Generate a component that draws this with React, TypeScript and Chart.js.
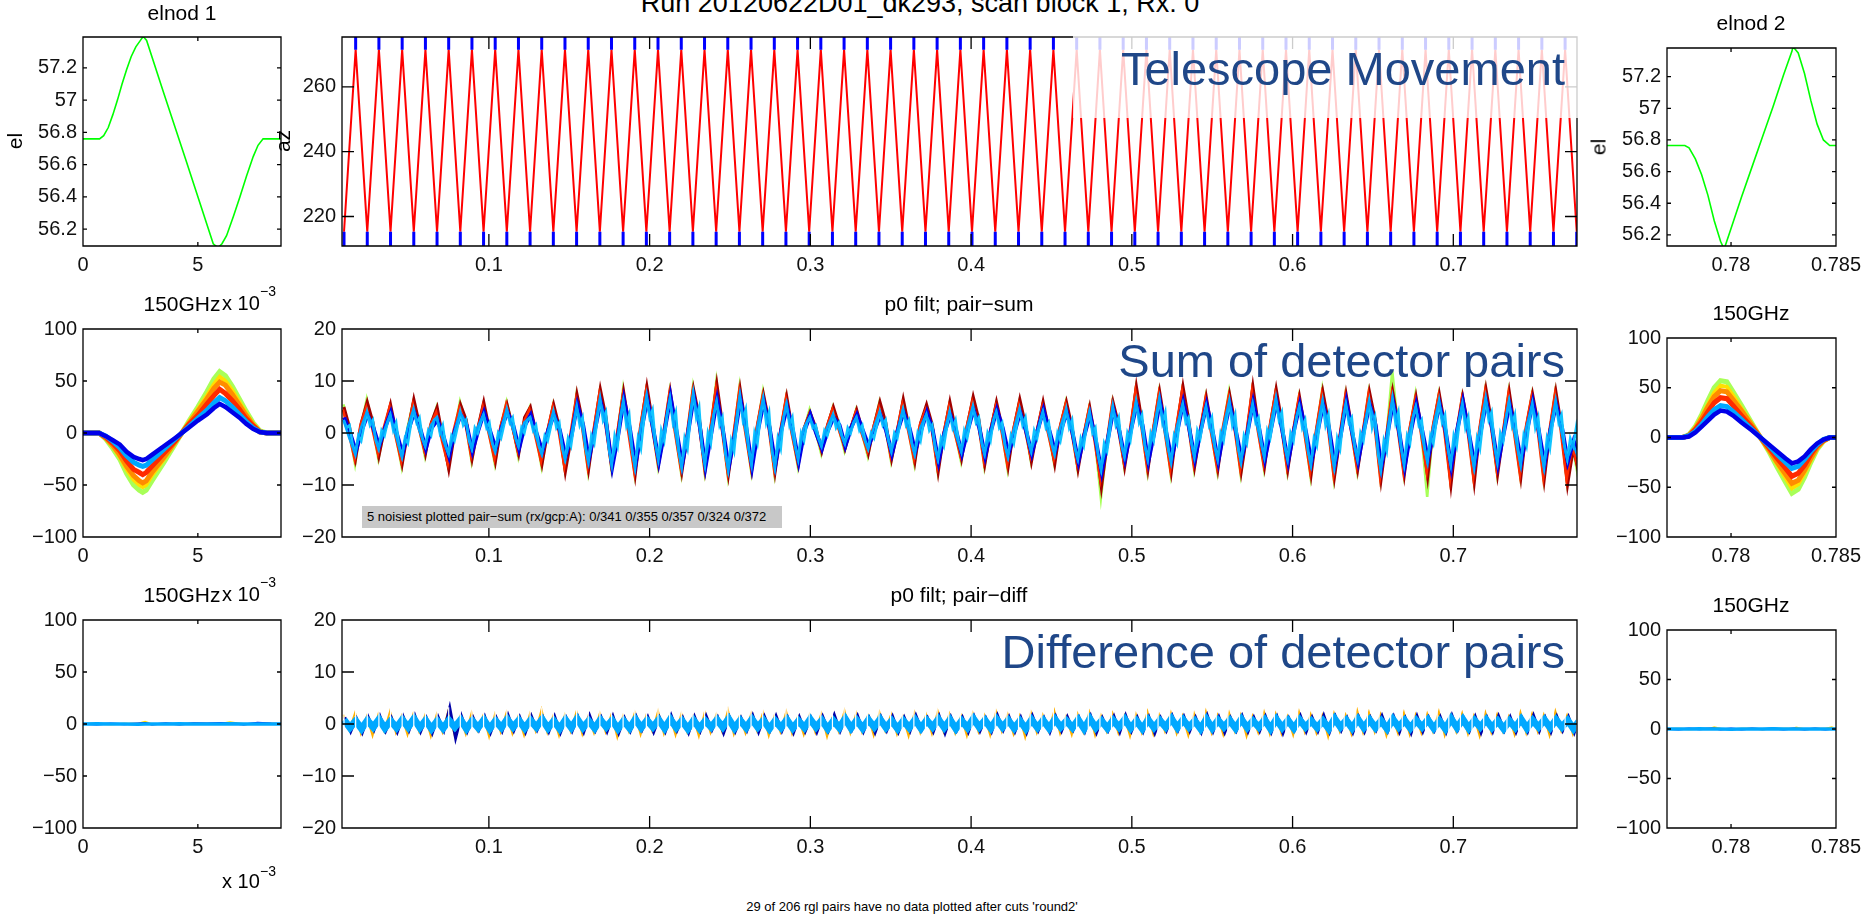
import React, { useEffect, useRef } from "react";
import { Chart, registerables } from "chart.js";

Chart.register(...registerables);

const FONT = "'Liberation Sans', Arial, Helvetica, sans-serif";

// ================= DATA =================
// elnod 1 (x in units of 1e-3)
const EL1_X = [0, 0.72, 0.9, 1.1, 1.3, 1.5, 1.7, 1.9, 2.1, 2.3, 2.5, 2.62, 2.77, 3.5, 4.5, 5.67, 5.88, 6.05, 6.25, 6.55, 6.83, 7.12, 7.41, 7.62, 7.84, 8.62];
const EL1_Y = [56.76, 56.76, 56.78, 56.83, 56.91, 57.0, 57.1, 57.19, 57.27, 57.33, 57.37, 57.395, 57.37, 57.05, 56.62, 56.11, 56.085, 56.11, 56.16, 56.28, 56.4, 56.53, 56.65, 56.72, 56.76, 56.76];
// elnod 2
const EL2_X = [0.77695, 0.7778, 0.778, 0.7783, 0.7786, 0.7789, 0.7792, 0.7795, 0.77967, 0.78, 0.7805, 0.781, 0.7815, 0.782, 0.7825, 0.7829, 0.78295, 0.7832, 0.7835, 0.7838, 0.7841, 0.7844, 0.7847, 0.785];
const EL2_Y = [56.765, 56.765, 56.75, 56.68, 56.58, 56.45, 56.29, 56.16, 56.11, 56.24, 56.44, 56.63, 56.82, 57.01, 57.21, 57.36, 57.39, 57.35, 57.22, 57.05, 56.9, 56.8, 56.765, 56.765];

// azimuth scan turnaround times (even index = low end, odd = high end)
const AZ_TURN_T = [
  0.00987, 0.01711, 0.02434, 0.03158, 0.03881, 0.04605, 0.05328, 0.06052, 0.06775, 0.07499,
  0.08222, 0.08946, 0.09669, 0.10393, 0.11116, 0.1184, 0.12563, 0.13287, 0.1401, 0.14734,
  0.15457, 0.16181, 0.16904, 0.17628, 0.18351, 0.19075, 0.19798, 0.20522, 0.21245, 0.21969,
  0.22692, 0.23416, 0.24139, 0.24863, 0.25586, 0.2631, 0.27033, 0.27757, 0.2848, 0.29204,
  0.29927, 0.30651, 0.31374, 0.32098, 0.32821, 0.33545, 0.34268, 0.34992, 0.35715, 0.36439,
  0.37162, 0.37886, 0.38609, 0.39333, 0.40056, 0.4078, 0.41503, 0.42227, 0.4295, 0.43674,
  0.44397, 0.45121, 0.45844, 0.46568, 0.47291, 0.48015, 0.48738, 0.49462, 0.50185, 0.50909,
  0.51632, 0.52356, 0.53079, 0.53803, 0.54526, 0.5525, 0.55973, 0.56697, 0.5742, 0.58144,
  0.58867, 0.59591, 0.60314, 0.61038, 0.61761, 0.62485, 0.63208, 0.63932, 0.64655, 0.65379,
  0.66102, 0.66826, 0.67549, 0.68273, 0.68996, 0.6972, 0.70443, 0.71167, 0.7189, 0.72614,
  0.73337, 0.74061, 0.74784, 0.75508, 0.76231, 0.76955, 0.77678,
];
const AZ_SCAN_LEVELS = [215.3, 271.5]; // constant-velocity part ends (low, high)
const AZ_TURN_LEVELS = [209, 277]; // turnaround excursion (low, high)

// pair-sum, scan (sampled series)
const SUM_T0 = 0.0095;
const SUM_DT = 0.003625;
const SUM_GREEN = [
  5.5,0.5,-6,1, 6.5,1.5,-5,0.5, 5,-0.5,-6.5,1, 6,1,-4.5,1.5, 5,-1,-6.5,0, 6,2,-5.5,0.5, 5.5,0,-6,1, 6,1.5,-4.5,2, 5,0,-6.5,0, 5.5,0.5,-7,-1,
  7.5,1.5,-7.5,0.5, 8,2.5,-7,-0.5, 8.5,0.5,-8,1, 8.5,1.5,-6.5,0, 8,0,-8,-0.5, 9,2.5,-7.5,0.5, 10,1,-8.5,-0.5, 9,0.5,-7.5,1, 8,1.5,-8,0, 7,0,-6.5,0.5,
  4.5,0.5,-4,1, 5,1,-3.5,0.5, 4.5,0,-4.5,1,
  6,1.5,-5.5,0, 6,0.5,-6,1.5, 5,1,-7.5,-0.5, 5.5,0,-5.5,1, 6.5,2,-6.5,0, 5.5,0.5,-7,0.5, 6,1,-5.5,0, 5.5,0,-6,1,
  6,0.5,-7,-1, 5,-1.5,-12.5,-2.5, 6,1,-6.5,0,
  8.5,1.5,-7.5,0.5, 8,0.5,-8,1, 8.5,2,-7,0, 7,0,-7.5,1, 8,1,-8,-0.5, 8.5,0.5,-7,1, 8,1.5,-7.5,0, 7,0,-8.5,0.5, 8.5,1.5,-9,-1, 7.5,0.5,-7.5,0,
  8,2,-9,-1, 12,1,-8,0.5, 7.5,0,-12.3,1, 7.5,0.5,-9.5,-0.5, 7,0.5,-9,0.5, 8.5,1.5,-8,-0.5, 8,0,-8.5,1, 7.5,1,-9,0, 8,0.5,-9.5,-3,
  -9,
];
const SUM_DARKRED = [
  5,1,-5,2, 6,2,-4.5,1, 5.5,0,-6,0.5, 6.5,1.5,-4,2, 5,-1,-7,0, 5.5,2.5,-5,1, 6,0.5,-5.5,1.5, 5.5,1,-4,3, 5,0,-6,0.5, 5.5,1,-7.5,-1,
  7.5,2,-7,1, 8.5,3,-6.5,0, 8,1,-8,1.5, 9,2,-6,0.5, 8,0.5,-7.5,0, 8.5,3,-7,1, 9.5,1.5,-8,0, 8.5,1,-7,1.5, 7.5,2,-7.5,0.5, 7,0.5,-6,1,
  4,1,-3.5,1.5, 5,1.5,-3,1, 4.5,0.5,-4,1.5,
  6,2,-5,0.5, 6.5,1,-5.5,2, 5.5,1.5,-7.5,0, 6,0.5,-5,1.5, 7,2.5,-6,0.5, 6,1,-6.5,1, 6.5,1.5,-5.5,0.5, 6,0.5,-6,1.5,
  6,1,-7,-0.5, 5,-1.5,-10.5,-2, 6,1.5,-6.5,0.5,
  9,2,-7,1, 8,1,-7.5,1.5, 9,2.5,-6.5,0.5, 7,0.5,-7,1, 7.5,1.5,-7.5,0, 9,1,-6.5,1.5, 8.5,2,-7,0.5, 7,0.5,-8,1, 8,2,-8.5,-0.5, 7.5,1,-7,0.5,
  8,2.5,-9,-0.5, 8,1.5,-8,1, 7,0.5,-8.5,1.5, 7.5,1,-10,0, 7,1,-9.5,1, 8.5,2,-8,0, 8,0.5,-8.5,1.5, 7.5,1.5,-9,0.5, 8,1,-10,-3,
  -8,
];
const SUM_ORANGE = [
  4.5,0,-5,1.5, 5,1,-4,1, 5,-0.5,-5.5,0, 5.5,1,-3.5,1.5, 4,-1.5,-6,0.5, 5,2,-4.5,0, 5,0,-5,1, 5.5,1.5,-3.5,2, 4.5,-0.5,-5.5,0, 5,0.5,-6.5,-0.5,
  6.5,1.5,-6.5,0.5, 7.5,2,-6,-0.5, 7,0,-7.5,1, 8,1.5,-5.5,0, 7.5,0,-7,-0.5, 8,2.5,-6.5,0.5, 8.5,1,-7.5,-0.5, 8,0.5,-6.5,1, 7,1.5,-7,0, 6.5,0,-5.5,0.5,
  3.5,0.5,-3,1, 4.5,1,-2.5,0.5, 4,0,-3.5,1,
  5,1.5,-4.5,0, 5.5,0.5,-5,1.5, 4.5,1,-6.5,-0.5, 5,0,-4.5,1, 6,2,-5.5,0, 5,0.5,-6,0.5, 5.5,1,-4.5,0, 5,0,-5,1,
  5.5,0.5,-6,-1, 4.5,-1.5,-9,-2.5, 5.5,1,-5.5,0,
  8,1.5,-6.5,0.5, 7.5,0.5,-7,1, 8,2,-6,0, 6.5,0,-6.5,1, 7,1,-7,-0.5, 8,0.5,-6,1, 7.5,1.5,-6.5,0, 6.5,0,-7.5,0.5, 7.5,1.5,-8,-1, 7,0.5,-6.5,0,
  7.5,2,-8.5,-1, 7.5,1,-7.5,0.5, 6.5,0,-7.5,1, 7,0.5,-9,-0.5, 6.5,0.5,-8.5,0.5, 8,1.5,-7,-0.5, 7.5,0,-8,1, 7,1,-8.5,0, 7.5,0.5,-9,-2.5,
  -7,
];
const SUM_BLUE = [
  3,0,-3.5,0.5, 3.5,1,-2.5,1, 4,0,-4,0.5, 4,1,-3,1, 2.5,-0.5,-4.5,0.5, 3.5,1.5,-3.5,0.5, 4,0.5,-3,1, 4,1.5,-3,1.5, 3.5,0,-3.5,0.5, 3.5,0.5,-4.5,-0.5,
  5.5,1.5,-5,0.5, 6,1.5,-6.5,-0.5, 6.5,1,-6,0.5, 6.5,1,-5.5,0.5, 7,0.5,-6,0, 7,1.5,-6.5,0, 6.5,0.5,-6.5,-0.5, 6.5,1,-6.5,0.5, 6,1,-6,0.5, 5,0.5,-5.5,0.5,
  3.5,0,-3,0.5, 3,1.5,-2.5,1, 3.5,0.5,-2.5,0.5,
  3.5,0.5,-4,0.5, 4,1,-3.5,0.5, 4,0.5,-5.5,0, 3.5,0.5,-4,0.5, 4.5,1,-4.5,0.5, 4.5,1,-4,0, 4,0.5,-4,0.5, 4.5,0.5,-3.5,0.5,
  4,0,-5.5,-0.5, 3.5,-1.5,-7.5,-1.5, 4.5,0.5,-5,0.5,
  5.5,1.5,-5.5,0, 6,0.5,-5,0.5, 6,1,-5,0.5, 5.5,0.5,-5.5,0.5, 5.5,0.5,-5,0, 6,1,-5,0.5, 6,0.5,-5.5,0.5, 5.5,0.5,-5.5,0, 5.5,1,-6,-0.5, 6,0,-5.5,0.5,
  5.5,1.5,-6.5,-0.5, 6,0.5,-6.5,0, 5.5,0.5,-5,0.5, 5.5,0.5,-6.5,0.5, 6,0,-6,0, 6,1,-6,0, 5.5,0.5,-5.5,0.5, 6,0.5,-6,0.5, 5.5,1,-5.5,-1.5,
  -4.5,
];
const SUM_LIGHTBLUE = [
  2.5,-1,-4,1, 4,1.5,-3,0.5, 3.5,-0.5,-4.5,1, 4.5,0.5,-2.5,1.5, 3,-1,-4,0, 4,2,-3,1, 3.5,0,-3.5,0.5, 4.5,1,-2.5,2, 3,-0.5,-4,0, 4,1,-5,-1,
  5,1,-5.5,0, 6.5,2,-6,-1, 6,0.5,-6.5,1, 7,1.5,-5,0, 6.5,0,-6.5,-0.5, 7.5,2,-6,0.5, 6,1,-7,-1, 7,0.5,-6,1, 6.5,1.5,-6.5,0, 5.5,0,-5,1,
  3,0.5,-2.5,1, 3.5,1,-2,0.5, 3,0,-3,1,
  4,1,-3.5,0, 4.5,0.5,-4,1, 3.5,1,-5,-0.5, 4,0,-3.5,1, 5,1.5,-4,0, 4,0.5,-4.5,0.5, 4.5,1,-3.5,0, 4,0,-4,1,
  4.5,0.5,-5,-1, 4,-1,-7,-2, 5,1,-4.5,0,
  6,1,-5,0.5, 6.5,0,-5.5,1, 5.5,1.5,-4.5,0, 5,0,-5,1, 6,1,-5.5,-0.5, 5.5,0.5,-4.5,1, 6.5,1,-5,0, 5,0,-6,0.5, 6,1.5,-6.5,-1, 5.5,0.5,-5,0,
  6,2,-7,-1, 6.5,1,-6,0.5, 5,0,-5.5,1, 6,1,-6,0, 5.5,0.5,-6.5,0.5, 6.5,1.5,-5.5,-0.5, 6,0,-6,1, 5.5,1,-6.5,0, 6,0.5,-5,-2,
  -5,
];
// denser core channel (twice the sampling rate)
const SUM_CYAN = [
  2.5,1,1.5,-2,-4,-0.5,-1.5,1.5, 4,1.5,2.5,-1.5,-3,0.5,-0.5,2, 3.5,0.5,2,-2.5,-4.5,-1,-2,1.5, 4.5,2,3,-1,-2.5,0.5,-0.5,2.5,
  3,0,1.5,-2.5,-4,-0.5,-1.5,1, 4,1.5,2.5,-1.5,-3,1,0,2, 3.5,1,2,-2,-3.5,0,-1,1.5, 4.5,2,3,-1,-2.5,1,0,2.5,
  3,0.5,1.5,-2.5,-4,-0.5,-1.5,1, 4,1,2,-3,-5,-1,-2.5,1.5,
  5,1.5,3,-3,-5.5,-0.5,-2,2.5, 6.5,2.5,4,-3,-6,-0.5,-2.5,3, 6,1.5,3.5,-3.5,-6.5,-1,-3,2.5, 7,3,4.5,-2,-5,0.5,-1.5,3.5,
  6.5,2,4,-3.5,-6.5,-1,-3,3, 7.5,3,5,-3,-6,0,-2,3.5, 6,1.5,3,-4,-7,-1.5,-3.5,2.5, 7,2.5,4.5,-3,-6,0,-2,3,
  6.5,2,4,-3.5,-6.5,-1,-3,3, 5.5,1.5,3,-2.5,-5,0,-1.5,2,
  3,1,1.5,-1,-2.5,0.5,-0.5,1.5, 3.5,1,2,-0.5,-2,1,0,2, 3,0.5,1.5,-1.5,-3,0,-1,1.5,
  4,1.5,2.5,-1.5,-3.5,0,-1,2, 4.5,1.5,2.5,-2,-4,0,-1.5,2, 3.5,0.5,1.5,-3,-5,-1,-2.5,1, 4,1,2.5,-1.5,-3.5,0.5,-1,2,
  5,2,3,-2,-4,0,-1.5,2.5, 4,1,2,-2.5,-4.5,-0.5,-2,1.5, 4.5,1.5,3,-1.5,-3.5,0.5,-1,2, 4,1,2,-2,-4,0,-1.5,1.5,
  4.5,1,2.5,-3,-5,-1,-2.5,1.5, 4,0,1,-4.5,-7,-2,-3.5,0.5, 5,1.5,3,-2.5,-4.5,0,-1.5,2.5,
  6,2,3.5,-2.5,-5,0,-1.5,3, 6.5,2,4,-3,-5.5,-0.5,-2,3, 5.5,2,3,-2,-4.5,0.5,-1,2.5, 5,1.5,3,-2.5,-5,0,-1.5,2.5,
  6,1.5,3.5,-3,-5.5,-0.5,-2,2.5, 5.5,2,3,-2,-4.5,0.5,-1,2.5, 6.5,2.5,4,-2.5,-5,0,-1.5,3, 5,1,2.5,-3.5,-6,-1,-2.5,2,
  6,1.5,3.5,-3.5,-6.5,-1,-3,2.5, 5.5,2,3,-2.5,-5,0,-1.5,2.5, 6,1,3,-4,-7,-1.5,-3.5,2, 6.5,2,4,-3,-6,-0.5,-2,3,
  5,1.5,2.5,-3,-5.5,-0.5,-2,2, 6,2,3.5,-3,-6,-0.5,-2.5,2.5, 5.5,1,3,-3.5,-6.5,-1,-3,2, 6.5,2.5,4,-2.5,-5.5,0,-1.5,3,
  6,1.5,3.5,-3,-6,-0.5,-2.5,2.5, 5.5,1,3,-3.5,-6.5,-1,-3,2, 6,2,3.5,-2.5,-5,-1,-2.5,1,
  -4,
];

// pair-diff, scan
const DIFF_ORANGE = [
  1.8,-1.2,2.2,-1.9,1.5,-2.3,1.9,-1.4, 2.5,-1.7,1.6,-2.1,2.0,-1.5,1.7,-2.4,
  1.9,-1.6,2.6,-1.8,1.4,-2.0,2.2,-1.3, 1.7,-2.5,1.9,-1.6,2.3,-1.9,1.5,-2.2,
  2.0,-1.4,2.8,-1.7,1.6,-2.3,1.8,-1.5, 2.4,-2.0,1.5,-1.8,2.1,-1.6,1.9,-2.6,
  1.6,-1.5,2.2,-2.1,1.8,-1.4,2.5,-1.9, 1.7,-2.2,2.0,-1.6,1.5,-2.4,2.3,-1.7,
  1.9,-1.5,2.7,-2.0,1.6,-1.8,2.1,-1.4, 2.2,-2.3,1.7,-1.6,2.4,-1.9,1.5,-2.1,
  1.8,-1.7,2.0,-2.5,1.6,-1.5,2.6,-1.8, 2.1,-1.6,1.7,-2.2,2.3,-1.4,1.9,-2.0,
  1.5,-2.4,2.2,-1.7,1.8,-1.9,2.5,-1.5, 2.0,-1.8,1.6,-2.3,2.1,-1.6,1.7,-2.2,
  2.4,-1.5,1.9,-2.0,1.6,-2.6,2.2,-1.7, 1.8,-1.4,2.6,-1.9,1.5,-2.1,2.0,-1.6,
  2.3,-2.2,1.7,-1.5,2.1,-1.8,1.6,-2.4, 1.9,-1.7,2.4,-2.0,1.8,-1.5,2.2,-1.9,
  1.6,-2.3,2.0,-1.6,2.5,-1.8,1.7,-2.1, 2.2,-1.5,1.8,-2.4,1.6,-1.7,2.3,-2.0,
  2.0,-1.9,1.5,-2.2,2.4,-1.6,1.9,-1.8, 1.7,-2.5,2.1,-1.5,1.8,-2.0,2.6,-1.7,
  2.3,-1.6,1.9,-2.3,1.5,-1.9,2.2,-2.1, 1.8,-1.8,2.0,-1.5,2.4,-2.2,1.7,-1.6,
  2.1,-2.0,1.6,-2.4,2.2,-1.7,1.9,-1.5, 1.5,-2.1,2.3,-1.8,2.0,-1.6,1.8,-2.3,
  2.5,-1.4,1.7,-2.0,1.9,
];
const DIFF_DARKBLUE = [
  1.3,-1.5,1.1,-1.7,1.4,-1.2,1.6,-1.4, 1.2,-1.6,1.5,-1.3,1.7,-1.5,1.2,-1.8,
  1.4,-1.3,3.2,-2.8,1.6,-1.5,1.3,-1.2, 1.5,-1.7,1.2,-1.4,1.8,-1.3,1.4,-1.6,
  1.6,-1.2,1.3,-1.5,1.5,-1.7,1.2,-1.4, 1.4,-1.6,1.7,-1.3,1.3,-1.5,1.6,-1.8,
  1.2,-1.4,1.5,-1.2,1.4,-1.6,1.3,-1.5, 1.7,-1.3,1.2,-1.7,1.5,-1.4,1.6,-1.2,
  1.3,-1.8,1.4,-1.5,1.2,-1.3,1.7,-1.6, 1.5,-1.2,1.6,-1.4,1.3,-1.7,1.4,-1.5,
  1.2,-1.6,1.5,-1.3,1.8,-1.4,1.3,-1.2, 1.6,-1.5,1.2,-1.7,1.4,-1.3,1.5,-1.6,
  1.3,-1.4,1.7,-1.2,1.2,-1.5,1.6,-1.8, 1.4,-1.3,1.3,-1.6,1.5,-1.4,1.2,-1.5,
  1.7,-1.2,1.4,-1.5,1.3,-1.7,1.6,-1.3, 1.2,-1.6,1.5,-1.4,1.4,-1.2,1.3,-1.5,
  1.6,-1.7,1.2,-1.3,1.5,-1.6,1.7,-1.4, 1.3,-1.5,1.4,-1.8,1.2,-1.3,1.6,-1.2,
  1.5,-1.4,1.3,-1.6,1.7,-1.5,1.4,-1.7, 1.2,-1.3,1.6,-1.5,1.3,-1.4,1.5,-1.6,
  1.4,-1.8,1.2,-1.2,1.6,-1.5,1.3,-1.4, 1.7,-1.6,1.5,-1.3,1.2,-1.7,1.4,-1.5,
  1.3,-1.2,1.6,-1.4,1.5,-1.6,1.2,-1.8, 1.6,-1.5,1.3,-1.3,1.4,-1.6,1.7,-1.2,
  1.2,-1.4,1.5,-1.7,1.3,-1.5,1.6,-1.3, 1.4,-1.6,1.2,-1.5,1.7,-1.4,1.3,-1.6,
  1.5,-1.3,1.4,-1.7,1.6,
];
const DIFF_LIGHTBLUE = [
  0.8,-0.7,0.6,-0.9,0.7,-0.6,0.9,-0.8, 0.6,-0.7,0.8,-0.6,1.0,-0.7,0.7,-0.9,
  0.6,-0.8,0.7,-0.6,0.8,-0.9,0.6,-0.7, 0.8,-0.9,0.6,-0.7,0.9,-0.6,0.7,-0.8,
  0.7,-0.6,0.9,-0.8,0.6,-0.9,0.8,-0.7, 1.0,-0.7,0.6,-0.8,0.8,-0.6,0.7,-0.9,
  0.6,-0.8,0.9,-0.7,0.7,-0.6,0.8,-0.8, 0.9,-0.7,0.6,-0.9,0.7,-0.8,0.6,-0.6,
  0.8,-0.6,1.0,-0.8,0.7,-0.7,0.9,-0.6, 0.7,-0.9,0.6,-0.7,0.8,-0.8,0.6,-0.7,
  0.9,-0.6,0.7,-0.9,0.6,-0.7,1.0,-0.8, 0.7,-0.8,0.8,-0.6,0.9,-0.7,0.6,-0.9,
  0.6,-0.7,0.8,-0.8,0.7,-0.6,0.9,-0.7, 0.8,-0.9,0.6,-0.7,1.0,-0.6,0.7,-0.8,
  0.9,-0.6,0.7,-0.8,0.6,-0.9,0.8,-0.7, 0.7,-0.8,0.9,-0.6,0.6,-0.7,0.8,-0.9,
  1.0,-0.7,0.6,-0.8,0.7,-0.6,0.9,-0.8, 0.6,-0.9,0.8,-0.7,0.7,-0.6,1.0,-0.7,
  0.8,-0.6,0.6,-0.9,0.9,-0.8,0.7,-0.6, 0.7,-0.8,0.9,-0.7,0.6,-0.6,0.8,-0.9,
  0.9,-0.7,0.7,-0.8,0.8,-0.6,0.6,-0.7, 0.6,-0.9,1.0,-0.6,0.7,-0.8,0.9,-0.7,
  0.8,-0.7,0.6,-0.9,0.9,-0.6,0.7,-0.8, 0.7,-0.6,0.8,-0.8,0.6,-0.9,1.0,-0.7,
  0.9,-0.8,0.7,-0.6,0.8,-0.7,0.6,-0.9, 0.6,-0.7,0.9,-0.8,0.7,-0.6,0.8,-0.7,
  0.8,-0.6,0.7,-0.9,0.6,
];
const DIFF_GAP_HALF = 3.2; // extent of the unplotted (turnaround) gaps in pair-diff

// pair-sum during elnods (left: x in 1e-3 units)
const SUML_X = [0, 0.7, 1.0, 1.3, 1.6, 1.9, 2.2, 2.45, 2.6, 2.75, 3.0, 3.5, 4.0, 4.3, 4.6, 5.0, 5.4, 5.7, 5.95, 6.2, 6.5, 6.8, 7.1, 7.4, 7.7, 8.0, 8.62];
const SUML_GREEN = [0, 0, -6, -15, -25, -39, -50, -55, -57, -55, -46, -29, -11, 0, 11, 25, 40, 52, 59, 55, 45, 33, 21, 10, 2, 0, 0];
const SUML_YELLOW = [0, 0, -5, -13, -23, -35, -45, -50, -52, -50, -41, -26, -10, 0, 10, 23, 36, 47, 54, 50, 41, 30, 19, 9, 2, 0, 0];
const SUML_ORANGE = [0, 0, -5, -12, -21, -32, -41, -46, -48, -46, -38, -24, -9, 0, 9, 21, 33, 43, 49, 46, 37, 27, 17, 8, 1, 0, 0];
const SUML_RED = [0, 0, -4, -10, -17, -27, -35, -38, -40, -38, -32, -20, -8, 0, 8, 17, 28, 36, 42, 38, 31, 23, 14, 7, 1, 0, 0];
const SUML_LIGHTBLUE = [0, 0, -3, -8, -14, -22, -28, -31, -32, -31, -26, -16, -6, 0, 6, 14, 22, 29, 34, 31, 25, 18, 11, 5, 1, 0, 0];
const SUML_BLUE = [0, 0, -3, -7, -11, -18, -23, -25, -26, -25, -21, -13, -5, 0, 5, 12, 18, 24, 28, 25, 20, 15, 9, 4, 1, 0, 0];

const SUMR_X = [0.77695, 0.7777, 0.778, 0.7783, 0.7786, 0.7789, 0.7792, 0.7795, 0.7798, 0.7801, 0.7805, 0.781, 0.7814, 0.7818, 0.7822, 0.7826, 0.7829, 0.7832, 0.7835, 0.7838, 0.7841, 0.7844, 0.7847, 0.785];
const SUMR_GREEN = [0, 0, 3, 11, 23, 37, 50, 57, 56, 46, 32, 14, 0, -14, -30, -45, -56, -52, -40, -25, -12, -4, 0, 0];
const SUMR_YELLOW = [0, 0, 3, 10, 21, 33, 45, 52, 51, 42, 29, 13, 0, -13, -27, -41, -51, -47, -36, -23, -11, -4, 0, 0];
const SUMR_ORANGE = [0, 0, 2, 9, 19, 31, 41, 47, 46, 38, 27, 12, 0, -12, -25, -37, -46, -43, -33, -21, -10, -3, 0, 0];
const SUMR_RED = [0, 0, 2, 8, 16, 26, 35, 40, 39, 32, 22, 10, 0, -10, -21, -31, -39, -36, -28, -17, -8, -3, 0, 0];
const SUMR_LIGHTBLUE = [0, 0, 2, 6, 13, 21, 28, 32, 31, 26, 18, 8, 0, -8, -17, -25, -31, -29, -22, -14, -7, -2, 0, 0];
const SUMR_BLUE = [0, 0, 1, 5, 11, 17, 23, 27, 26, 22, 15, 7, 0, -7, -14, -21, -26, -24, -19, -12, -6, -2, 0, 0];

// pair-diff during elnods
const DIFFL_X = [0, 0.6, 1.2, 1.8, 2.4, 2.7, 3.0, 3.6, 4.2, 4.8, 5.4, 6.0, 6.4, 7.0, 7.6, 8.2, 8.62];
const DIFFL_YELLOW = [0, 0.2, -0.3, 0.3, 0.2, 2.2, -0.2, 0.3, -0.2, 0.4, 0.2, 0.3, 1.6, -0.3, 0.2, 0.3, 0];
const DIFFL_DARKBLUE = [0.3, -0.4, 0.5, -0.3, 0.6, 0.9, -0.5, 0.7, -0.4, 0.8, 0.5, 0.9, 0.7, -0.4, 1.1, 0.4, 0.2];
const DIFFL_LIGHTBLUE = [0, 0.2, -0.1, 0.1, -0.2, 0.1, 0, -0.1, 0.2, -0.1, 0.1, 0, 0.2, -0.1, 0.1, 0, 0];
const DIFFR_X = [0.77695, 0.7775, 0.778, 0.7785, 0.779, 0.7792, 0.7795, 0.78, 0.7805, 0.781, 0.7815, 0.782, 0.7825, 0.783, 0.7831, 0.7835, 0.784, 0.7845, 0.7848, 0.785];
const DIFFR_YELLOW = [0, 0.2, -0.2, 0.3, 0.2, 1.8, 0.2, -0.2, 0.3, 0.2, -0.3, 0.2, 0.3, 0.2, 1.5, -0.2, 0.3, 0.2, 1.8, 0];
const DIFFR_DARKBLUE = [0.2, -0.4, 0.5, -0.3, 0.4, 0.6, -0.5, 0.6, -0.4, 0.5, -0.3, 0.6, -0.5, 0.4, 0.3, -0.6, 0.5, -0.4, 0.3, 0.2];
const DIFFR_LIGHTBLUE = [0, 0.1, -0.1, 0.2, -0.1, 0, 0.1, -0.2, 0.1, 0, -0.1, 0.2, 0, -0.1, 0.1, 0, 0.1, -0.1, 0, 0];

// ticks and axis limits
const X_TICKS_LEFT = [0, 5];
const X_TICKS_SCAN = [0.1, 0.2, 0.3, 0.4, 0.5, 0.6, 0.7];
const X_TICKS_RIGHT = [0.78, 0.785];
const Y_TICKS_EL = [56.2, 56.4, 56.6, 56.8, 57, 57.2];
const Y_TICKS_AZ = [220, 240, 260];
const Y_TICKS_ELNOD_TOD = [-100, -50, 0, 50, 100];
const Y_TICKS_SCAN_TOD = [-20, -10, 0, 10, 20];
const X_LIM_LEFT = [0, 8.62];
const X_LIM_SCAN = [0.00862, 0.77695];
const X_LIM_RIGHT = [0.77695, 0.785];
const Y_LIM_EL1 = [56.096, 57.391];
const Y_LIM_EL2 = [56.13, 57.381];
const Y_LIM_AZ = [210.9, 275.4];
const Y_LIM_ELNOD_TOD = [-100, 100];
const Y_LIM_SCAN_TOD = [-20, 20];

// ================= STYLE / LAYOUT =================
const C = {
  green: "#00ff00", red: "#ff0000", blue: "#0000ff",
  jGreen: "#a8ff58", jYellow: "#ffe000", jOrange: "#ff8c00", jRed: "#ff2a00", jDarkRed: "#a00000",
  jLightBlue: "#00a8ff", jCyan: "#10c4ff", jBlue: "#0000e8", jDarkBlue: "#0000a8", diffOrange: "#ffb000",
};
const PADL = 80, PADR = 44, PADT = 16, PADB = 44;
const COL_L = [83, 198], COL_M = [342, 1235], COL_R = [1667, 169];
const ROW_LM = [[37, 209], [329, 208], [620, 208]];
const ROW_R = [[48, 198], [338, 199], [630, 198]];

const xy = (xs: number[], ys: number[]) => xs.map((x, i) => ({ x, y: ys[i] }));
const sampled = (vals: number[], off: number, dt = SUM_DT) => vals.map((y, i) => ({ x: SUM_T0 + off + i * dt, y }));
const line = (data: any[], color: string, width: number) => ({
  data, borderColor: color, borderWidth: width, pointRadius: 0, fill: false, tension: 0, spanGaps: false, clip: 0,
});
const fmt = (v: number) => String(parseFloat(Number(v).toFixed(4))).replace("-", "\u2212");

const azRed = AZ_TURN_T.map((t, i) => ({ x: t, y: AZ_SCAN_LEVELS[i % 2] }));
const azBlue: any[] = [];
AZ_TURN_T.forEach((t, i) => {
  azBlue.push({ x: t, y: AZ_SCAN_LEVELS[i % 2] }, { x: t, y: AZ_TURN_LEVELS[i % 2] }, { x: t, y: null });
});
const diffGaps: any[] = [];
AZ_TURN_T.forEach((t) => {
  diffGaps.push({ x: t, y: -DIFF_GAP_HALF }, { x: t, y: DIFF_GAP_HALF }, { x: t, y: null });
});

type Spec = {
  id: string; left: number; top: number; w: number; h: number;
  xLim: number[]; xTicks: number[]; yLim: number[]; yTicks: number[]; tickLen: number; datasets: any[];
};

// datasets listed bottom-to-top
const PANELS: Spec[] = [
  { id: "el1", left: COL_L[0], w: COL_L[1], top: ROW_LM[0][0], h: ROW_LM[0][1], xLim: X_LIM_LEFT, xTicks: X_TICKS_LEFT, yLim: Y_LIM_EL1, yTicks: Y_TICKS_EL, tickLen: 4,
    datasets: [line(xy(EL1_X, EL1_Y), C.green, 1.6)] },
  { id: "az", left: COL_M[0], w: COL_M[1], top: ROW_LM[0][0], h: ROW_LM[0][1], xLim: X_LIM_SCAN, xTicks: X_TICKS_SCAN, yLim: Y_LIM_AZ, yTicks: Y_TICKS_AZ, tickLen: 12,
    datasets: [line(azRed, C.red, 2), line(azBlue, C.blue, 3)] },
  { id: "el2", left: COL_R[0], w: COL_R[1], top: ROW_R[0][0], h: ROW_R[0][1], xLim: X_LIM_RIGHT, xTicks: X_TICKS_RIGHT, yLim: Y_LIM_EL2, yTicks: Y_TICKS_EL, tickLen: 4,
    datasets: [line(xy(EL2_X, EL2_Y), C.green, 1.6)] },
  { id: "suml", left: COL_L[0], w: COL_L[1], top: ROW_LM[1][0], h: ROW_LM[1][1], xLim: X_LIM_LEFT, xTicks: X_TICKS_LEFT, yLim: Y_LIM_ELNOD_TOD, yTicks: Y_TICKS_ELNOD_TOD, tickLen: 4,
    datasets: [
      line(xy(SUML_X, SUML_GREEN), C.jGreen, 5), line(xy(SUML_X, SUML_YELLOW), C.jYellow, 4), line(xy(SUML_X, SUML_ORANGE), C.jOrange, 5),
      line(xy(SUML_X, SUML_RED), C.jRed, 5), line(xy(SUML_X, SUML_LIGHTBLUE), C.jLightBlue, 5), line(xy(SUML_X, SUML_BLUE), C.jBlue, 4.5),
    ] },
  { id: "sum", left: COL_M[0], w: COL_M[1], top: ROW_LM[1][0], h: ROW_LM[1][1], xLim: X_LIM_SCAN, xTicks: X_TICKS_SCAN, yLim: Y_LIM_SCAN_TOD, yTicks: Y_TICKS_SCAN_TOD, tickLen: 12,
    datasets: [
      line(sampled(SUM_GREEN, 0), C.jGreen, 2.6), line(sampled(SUM_DARKRED, 0.0003), C.jDarkRed, 3),
      line(sampled(SUM_ORANGE, -0.0003), C.jRed, 2.6), line(sampled(SUM_BLUE, 0.0005), C.jBlue, 4),
      line(sampled(SUM_CYAN, 0.0002, SUM_DT / 2), C.jCyan, 2.6), line(sampled(SUM_LIGHTBLUE, 0), C.jLightBlue, 2.4),
    ] },
  { id: "sumr", left: COL_R[0], w: COL_R[1], top: ROW_R[1][0], h: ROW_R[1][1], xLim: X_LIM_RIGHT, xTicks: X_TICKS_RIGHT, yLim: Y_LIM_ELNOD_TOD, yTicks: Y_TICKS_ELNOD_TOD, tickLen: 4,
    datasets: [
      line(xy(SUMR_X, SUMR_GREEN), C.jGreen, 5), line(xy(SUMR_X, SUMR_YELLOW), C.jYellow, 4), line(xy(SUMR_X, SUMR_ORANGE), C.jOrange, 5),
      line(xy(SUMR_X, SUMR_RED), C.jRed, 5), line(xy(SUMR_X, SUMR_LIGHTBLUE), C.jLightBlue, 5), line(xy(SUMR_X, SUMR_BLUE), C.jBlue, 4.5),
    ] },
  { id: "diffl", left: COL_L[0], w: COL_L[1], top: ROW_LM[2][0], h: ROW_LM[2][1], xLim: X_LIM_LEFT, xTicks: X_TICKS_LEFT, yLim: Y_LIM_ELNOD_TOD, yTicks: Y_TICKS_ELNOD_TOD, tickLen: 4,
    datasets: [line(xy(DIFFL_X, DIFFL_YELLOW), C.jYellow, 2), line(xy(DIFFL_X, DIFFL_DARKBLUE), C.jBlue, 2), line(xy(DIFFL_X, DIFFL_LIGHTBLUE), C.jLightBlue, 3.5)] },
  { id: "diff", left: COL_M[0], w: COL_M[1], top: ROW_LM[2][0], h: ROW_LM[2][1], xLim: X_LIM_SCAN, xTicks: X_TICKS_SCAN, yLim: Y_LIM_SCAN_TOD, yTicks: Y_TICKS_SCAN_TOD, tickLen: 12,
    datasets: [
      line(sampled(DIFF_ORANGE, 0), C.diffOrange, 1.8), line(sampled(DIFF_DARKBLUE, 0.0009), C.jDarkBlue, 2.8),
      line(sampled(DIFF_LIGHTBLUE, 0.0004), C.jLightBlue, 7), line(diffGaps, "#ffffff", 1.2),
    ] },
  { id: "diffr", left: COL_R[0], w: COL_R[1], top: ROW_R[2][0], h: ROW_R[2][1], xLim: X_LIM_RIGHT, xTicks: X_TICKS_RIGHT, yLim: Y_LIM_ELNOD_TOD, yTicks: Y_TICKS_ELNOD_TOD, tickLen: 4,
    datasets: [line(xy(DIFFR_X, DIFFR_YELLOW), C.jYellow, 2), line(xy(DIFFR_X, DIFFR_DARKBLUE), C.jBlue, 2), line(xy(DIFFR_X, DIFFR_LIGHTBLUE), C.jLightBlue, 3.5)] },
];

const framePlugin = {
  id: "frame",
  afterDatasetsDraw(chart: any, _args: any, opts: any) {
    const { ctx, chartArea: a } = chart;
    const xs = chart.scales.x, ys = chart.scales.y;
    const L = opts.tickLen || 4;
    ctx.save();
    ctx.strokeStyle = "#000";
    ctx.lineWidth = 1.3;
    ctx.beginPath();
    ctx.rect(a.left, a.top, a.right - a.left, a.bottom - a.top);
    for (const t of xs.ticks) {
      const p = xs.getPixelForValue(t.value);
      ctx.moveTo(p, a.bottom); ctx.lineTo(p, a.bottom - L);
      ctx.moveTo(p, a.top); ctx.lineTo(p, a.top + L);
    }
    for (const t of ys.ticks) {
      const p = ys.getPixelForValue(t.value);
      ctx.moveTo(a.left, p); ctx.lineTo(a.left + L, p);
      ctx.moveTo(a.right, p); ctx.lineTo(a.right - L, p);
    }
    ctx.stroke();
    ctx.restore();
  },
};

const tickFont = { family: FONT, size: 20 };

function buildConfig(s: Spec): any {
  // Chart.js paints the first dataset on top, so hand them over top-first
  const datasets = s.datasets.slice().reverse();
  return {
    type: "line",
    data: { datasets },
    options: {
      animation: false, responsive: false, maintainAspectRatio: false, events: [],
      layout: { padding: { left: 0, right: PADR, top: PADT, bottom: 0 } },
      plugins: { legend: { display: false }, tooltip: { enabled: false }, title: { display: false }, frame: { tickLen: s.tickLen } },
      scales: {
        x: {
          type: "linear", min: s.xLim[0], max: s.xLim[1],
          grid: { display: false, drawTicks: false }, border: { display: false },
          afterBuildTicks: (sc: any) => { sc.ticks = s.xTicks.map((v) => ({ value: v })); },
          afterFit: (sc: any) => { sc.height = PADB; sc.paddingLeft = 0; sc.paddingRight = 0; },
          ticks: { callback: (v: any) => fmt(v), font: tickFont, color: "#111", padding: 7, autoSkip: false, maxRotation: 0, minRotation: 0 },
        },
        y: {
          type: "linear", min: s.yLim[0], max: s.yLim[1],
          grid: { display: false, drawTicks: false }, border: { display: false },
          afterBuildTicks: (sc: any) => { sc.ticks = s.yTicks.map((v) => ({ value: v })); },
          afterFit: (sc: any) => { sc.width = PADL; sc.paddingTop = 0; sc.paddingBottom = 0; },
          ticks: { callback: (v: any) => fmt(v), font: tickFont, color: "#111", padding: 6, autoSkip: false },
        },
      },
    },
    plugins: [framePlugin],
  };
}

function Panel({ spec }: { spec: Spec }) {
  const ref = useRef<HTMLCanvasElement>(null);
  useEffect(() => {
    const chart = new Chart(ref.current as HTMLCanvasElement, buildConfig(spec));
    return () => chart.destroy();
  }, [spec]);
  const w = spec.w + PADL + PADR, h = spec.h + PADT + PADB;
  return (
    <canvas ref={ref} width={w} height={h}
      style={{ position: "absolute", left: spec.left - PADL, top: spec.top - PADT, width: w, height: h }} />
  );
}

function Txt({ x, y, size, children, align = "center", color = "#000" }: any) {
  const tx = align === "center" ? "-50%" : align === "right" ? "-100%" : "0";
  return (
    <div style={{
      position: "absolute", left: x, top: y - 0.8465 * size, fontSize: size, lineHeight: `${size}px`,
      fontFamily: FONT, color, whiteSpace: "nowrap", transform: `translateX(${tx})`,
    }}>{children}</div>
  );
}

function VTxt({ cx, cy, size, children }: any) {
  return (
    <div style={{
      position: "absolute", left: cx, top: cy, fontSize: size, lineHeight: `${size}px`, fontFamily: FONT,
      color: "#000", whiteSpace: "nowrap", transform: "translate(-50%,-50%) rotate(-90deg)",
    }}>{children}</div>
  );
}

const OVERLAY = "#1f4788";

export default function App() {
  return (
    <div style={{ position: "fixed", left: 0, top: 0, width: 1865, height: 922, overflow: "hidden", background: "#fff" }}>
      {PANELS.map((p) => <Panel key={p.id} spec={p} />)}

      <div style={{ position: "absolute", left: 1073, top: 35, width: 507, height: 83, background: "rgba(255,255,255,0.8)" }} />
      <div style={{ position: "absolute", left: 362, top: 506, width: 420, height: 22, background: "#c8c8c8" }} />
      <Txt x={367} y={521} size={13} align="left">5 noisiest plotted pair{"\u2212"}sum (rx/gcp:A): 0/341 0/355 0/357 0/324 0/372</Txt>

      <Txt x={920} y={12.5} size={27}>Run 20120622D01_dk293, scan block 1; Rx: 0</Txt>

      <Txt x={182} y={20} size={21}>elnod 1</Txt>
      <Txt x={1751} y={30} size={21}>elnod 2</Txt>
      <Txt x={182} y={311} size={21}>150GHz</Txt>
      <Txt x={1751} y={320} size={21}>150GHz</Txt>
      <Txt x={182} y={602} size={21}>150GHz</Txt>
      <Txt x={1751} y={612} size={21}>150GHz</Txt>
      <Txt x={959} y={311} size={21}>p0 filt; pair{"\u2212"}sum</Txt>
      <Txt x={959} y={602} size={21}>p0 filt; pair{"\u2212"}diff</Txt>

      <Txt x={222} y={310} size={20} align="left">x 10</Txt>
      <Txt x={260} y={296} size={14} align="left">{"\u2212"}3</Txt>
      <Txt x={222} y={601} size={20} align="left">x 10</Txt>
      <Txt x={260} y={587} size={14} align="left">{"\u2212"}3</Txt>
      <Txt x={222} y={888} size={20} align="left">x 10</Txt>
      <Txt x={260} y={876} size={14} align="left">{"\u2212"}3</Txt>

      <VTxt cx={14} cy={141} size={21}>el</VTxt>
      <VTxt cx={1598} cy={147} size={21}>el</VTxt>
      <VTxt cx={282} cy={141} size={21}>az</VTxt>

      <Txt x={1565} y={85} size={47} align="right" color={OVERLAY}>Telescope Movement</Txt>
      <Txt x={1565} y={377} size={47} align="right" color={OVERLAY}>Sum of detector pairs</Txt>
      <Txt x={1565} y={668} size={47} align="right" color={OVERLAY}>Difference of detector pairs</Txt>

      <Txt x={912} y={911} size={13}>29 of 206 rgl pairs have no data plotted after cuts 'round2'</Txt>
    </div>
  );
}
